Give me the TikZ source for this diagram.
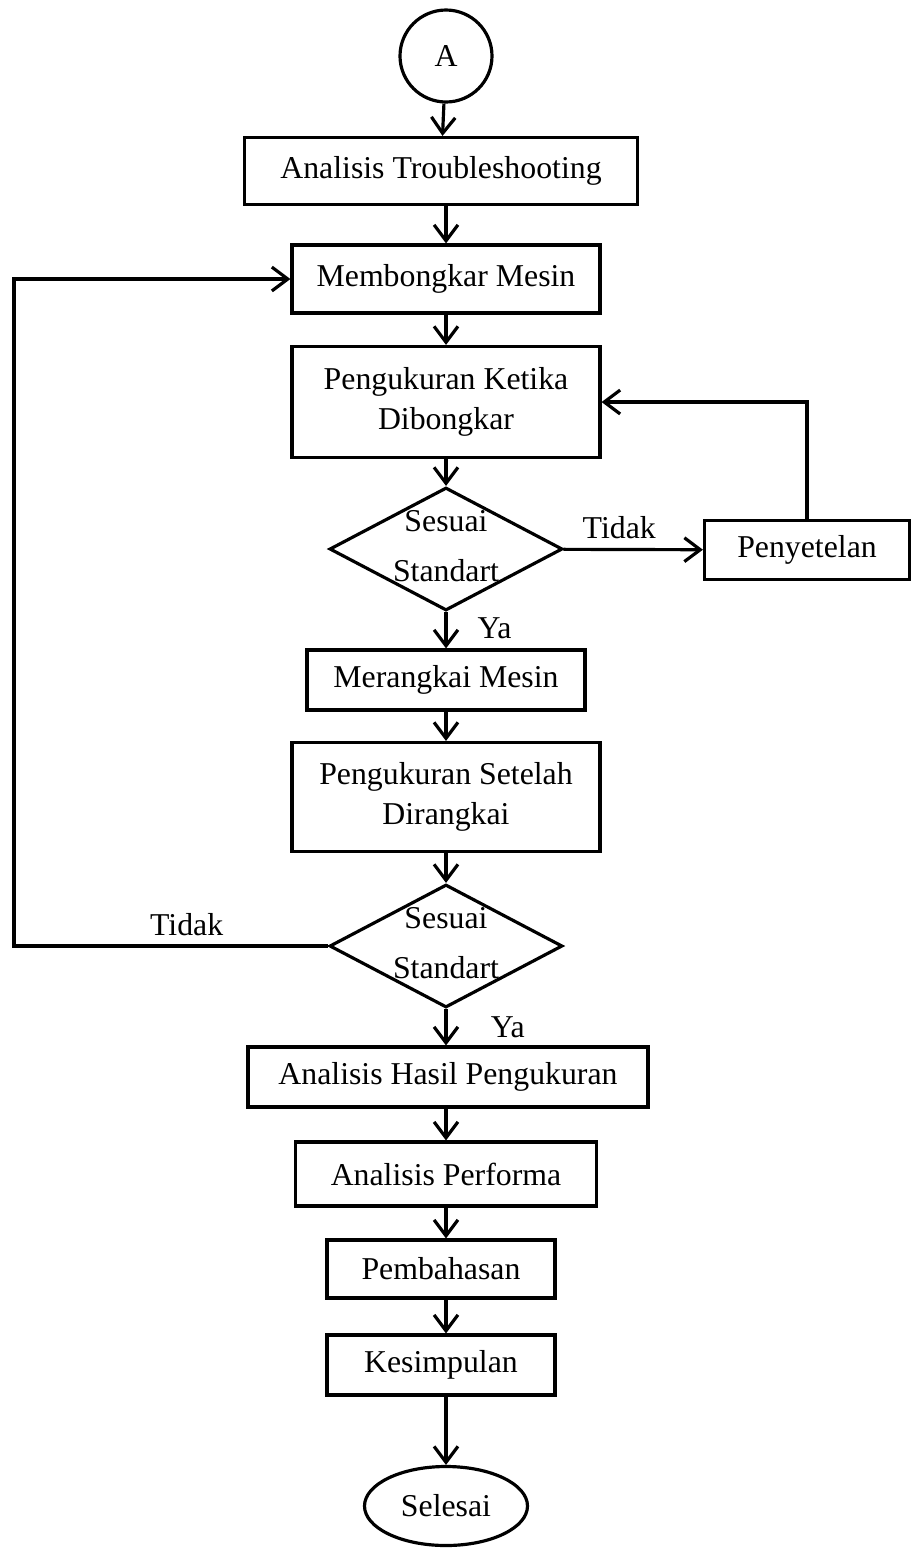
\documentclass[tikz,border=0pt]{standalone}
\usepackage{fontspec}
\setmainfont{Liberation Serif}
\usetikzlibrary{shapes.geometric,arrows.meta}
\newlength\px
\setlength\px{0.3774pt}

\begin{document}
\begin{tikzpicture}[x=\px, y=-\px,
	every node/.style={font=\fontsize{12}{15}\selectfont},
	box_node/.style={rectangle,draw,line width=1.2pt,align=center,inner sep=2pt},
	start_node/.style={circle,draw,line width=1.2pt,minimum size=92\px,inner sep=0pt},
	end_node/.style={ellipse,draw,line width=1.2pt,minimum width=163\px,minimum height=79\px,inner sep=0pt},
	check_node/.style={diamond,draw,line width=1.2pt,minimum width=233\px,minimum height=123\px,inner sep=-6pt,align=center,text depth=2.5pt},
	flow/.style={line width=1.2pt,-{Straight Barb[length=6pt,width=9pt]}}]
	
	\useasboundingbox (0,0) rectangle (912,1550);
	
	\node[start_node] (A) at (446,56) {A};
	\node[box_node, minimum width=393\px, minimum height=67\px] (analisis) at (441,171) {Analisis Troubleshooting};
	\node[box_node, minimum width=308\px, minimum height=68\px] (bongkar) at (446,279) {Membongkar Mesin};
	\node[box_node, minimum width=308\px, minimum height=111\px] (ukur1) at (446,402) {Pengukuran Ketika\\Dibongkar};
	\node[check_node] (cek1) at (446,549) {Sesuai\\[4pt]Standart};
	\node[box_node, minimum width=205\px, minimum height=59\px] (setel) at (807,550) {Penyetelan};
	\node[box_node, minimum width=278\px, minimum height=60\px] (rangkai) at (446,680) {Merangkai Mesin};
	\node[box_node, minimum width=308\px, minimum height=109\px] (ukur2) at (446,797) {Pengukuran Setelah\\Dirangkai};
	\node[check_node] (cek2) at (446,946) {Sesuai\\[4pt]Standart};
	\node[box_node, minimum width=400\px, minimum height=60\px] (hasil) at (448,1077) {Analisis Hasil Pengukuran};
	\node[box_node, minimum width=301\px, minimum height=64\px] (performa) at (446,1174) {Analisis Performa};
	\node[box_node, minimum width=228\px, minimum height=58\px] (bahas) at (441,1269) {Pembahasan};
	\node[box_node, minimum width=228\px, minimum height=60\px] (simpul) at (441,1365) {Kesimpulan};
	\node[end_node] (selesai) at (446,1506) {Selesai};
	\coordinate (kiri) at (14,946);
	
	\path[flow]
	(A) edge (analisis)
	(analisis.south -| bongkar) edge (bongkar)
	(bongkar) edge (ukur1)
	(ukur1) edge (cek1)
	(cek1) edge node[right=8pt, pos=0.45] {Ya} (rangkai)
	(rangkai) edge (ukur2)
	(ukur2) edge (cek2)
	(cek2) edge node[right=13pt, pos=0.5] {Ya} (hasil.north -| cek2)
	(hasil.south -| performa) edge (performa)
	(performa.south -| selesai) edge (bahas.north -| selesai)
	(bahas.south -| selesai) edge (simpul.north -| selesai)
	(simpul.south -| selesai) edge (selesai)
	(cek1) edge node[above, pos=0.4] {Tidak} (setel);
	
	\draw[flow] (setel.north) |- (ukur1.east);
	\draw[flow] (cek2.west) -- node[above, pos=0.45] {Tidak} (kiri) |- (bongkar.west);
\end{tikzpicture}
\end{document}
